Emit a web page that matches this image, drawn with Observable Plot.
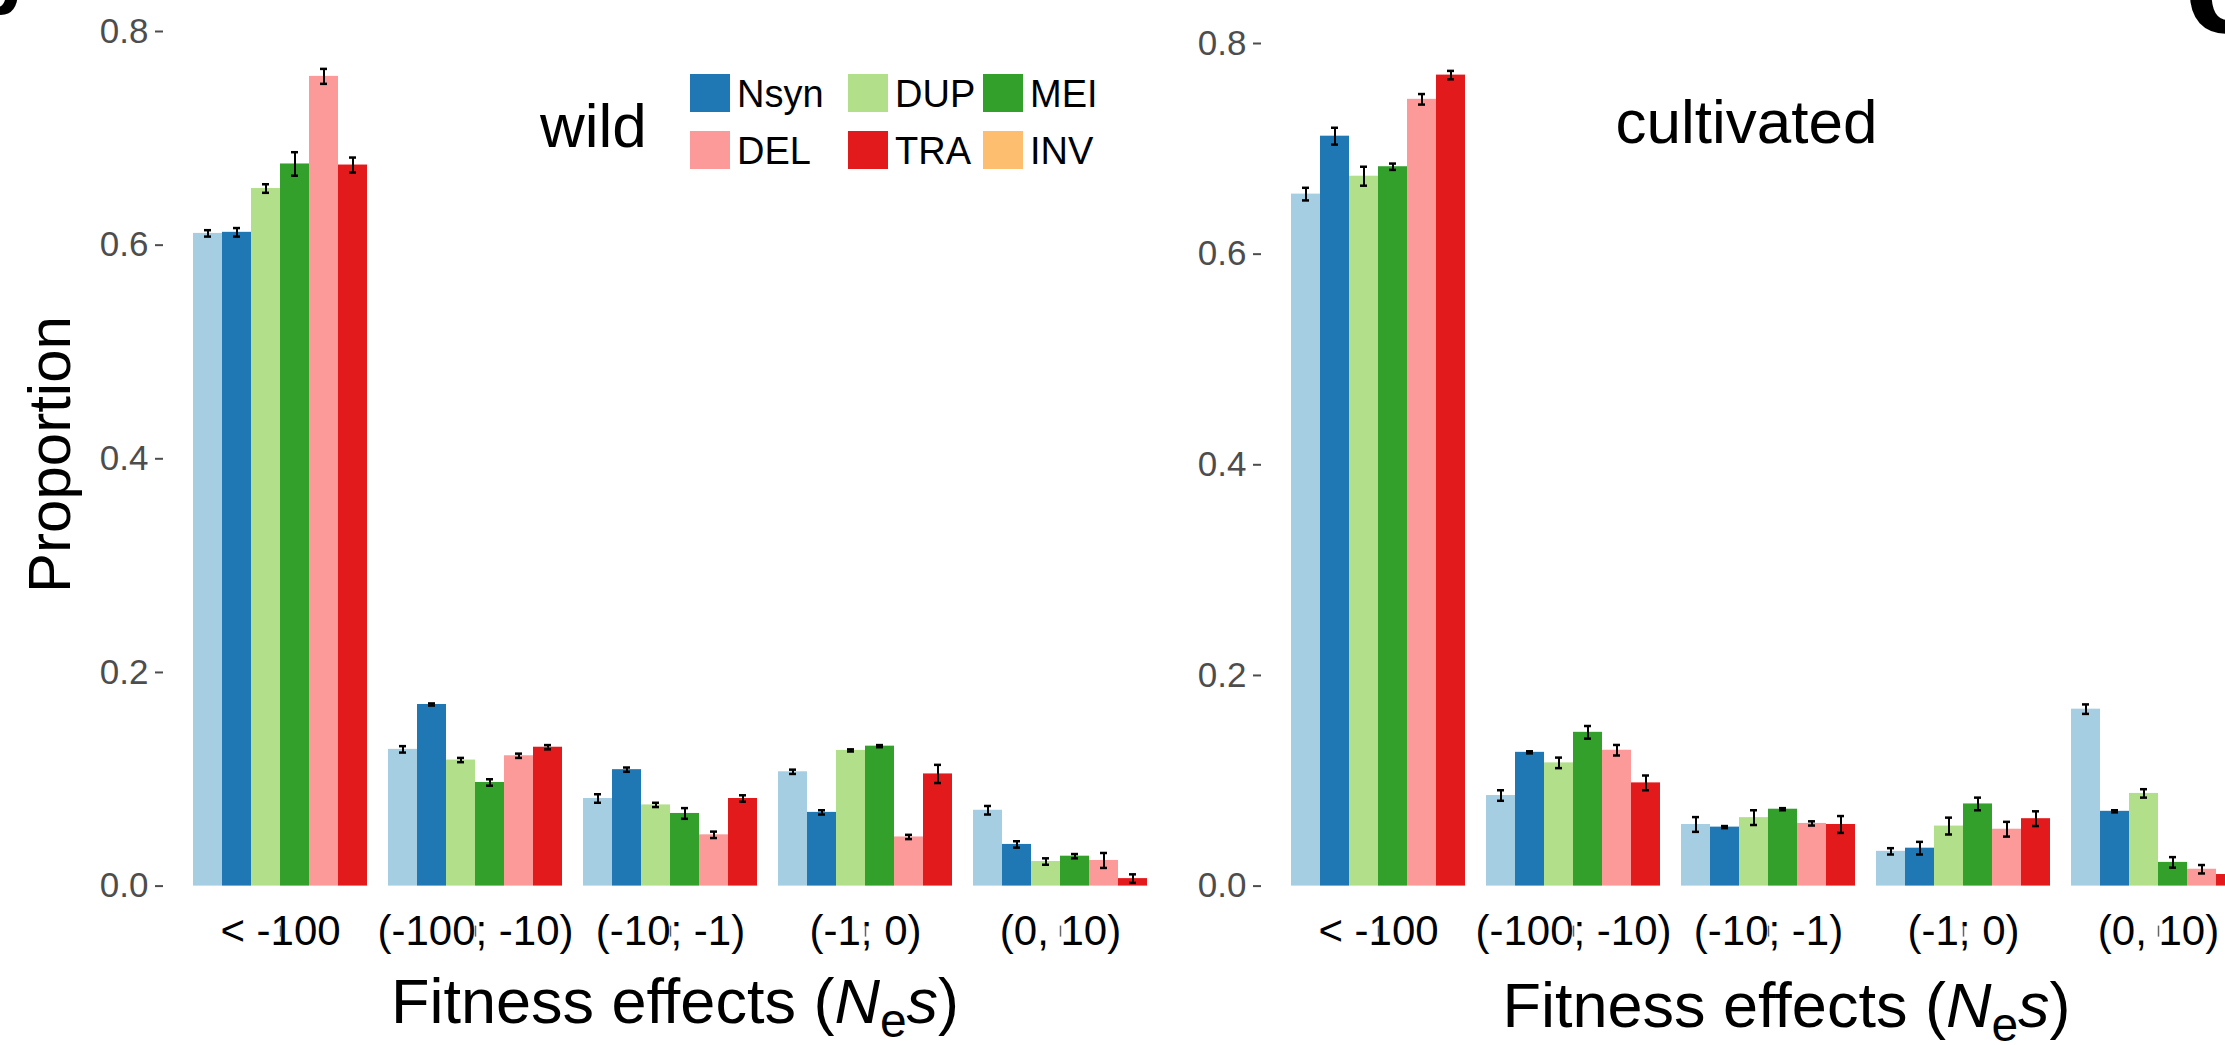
<!DOCTYPE html>
<html>
<head>
<meta charset="utf-8">
<script src="https://cdn.jsdelivr.net/npm/d3@7"></script>
<script src="https://cdn.jsdelivr.net/npm/@observablehq/plot@0.6"></script>
<style>
  html, body { margin: 0; padding: 0; background: white; }
  body { width: 2225px; height: 1045px; overflow: hidden; position: relative; }
  .panel { position: absolute; top: 0; }
  .panel svg { overflow: visible; }
</style>
</head>
<body>
<div id="left" class="panel" style="left:0px"></div>
<div id="right" class="panel" style="left:1097.5px"></div>
<script>
// ---- data ----
const categories = ["< -100", "(-100; -10)", "(-10; -1)", "(-1; 0)", "(0, 10)"];
const types = ["Syn", "Nsyn", "DUP", "MEI", "DEL", "TRA"];
const typeColors = ["#a6cee3", "#1f78b4", "#b2df8a", "#33a02c", "#fb9a99", "#e31a1c"];
const legendLabels = ["Nsyn", "DUP", "MEI", "DEL", "TRA", "INV"];
const legendColors = ["#1f78b4", "#b2df8a", "#33a02c", "#fb9a99", "#e31a1c", "#fdbf6f"];
const yTicks = [0, 0.2, 0.4, 0.6, 0.8];

// wild: proportions per type across categories
const wildSyn  = [0.611, 0.128, 0.082, 0.107, 0.071];
const wildNsyn = [0.612, 0.170, 0.109, 0.069, 0.039];
const wildDUP  = [0.653, 0.118, 0.076, 0.127, 0.023];
const wildMEI  = [0.676, 0.097, 0.068, 0.131, 0.028];
const wildDEL  = [0.758, 0.122, 0.048, 0.046, 0.024];
const wildTRA  = [0.675, 0.130, 0.082, 0.105, 0.007];
// wild: error half-widths
const wildSynErr  = [0.003, 0.003, 0.004, 0.002, 0.004];
const wildNsynErr = [0.004, 0.001, 0.002, 0.002, 0.003];
const wildDUPErr  = [0.004, 0.002, 0.002, 0.001, 0.003];
const wildMEIErr  = [0.011, 0.003, 0.005, 0.001, 0.002];
const wildDELErr  = [0.007, 0.002, 0.003, 0.002, 0.007];
const wildTRAErr  = [0.007, 0.002, 0.003, 0.0085, 0.004];

// cultivated
const cultSyn  = [0.657, 0.086, 0.0585, 0.033, 0.168];
const cultNsyn = [0.712, 0.127, 0.056, 0.036, 0.071];
const cultDUP  = [0.674, 0.117, 0.065, 0.057, 0.088];
const cultMEI  = [0.683, 0.146, 0.073, 0.078, 0.0225];
const cultDEL  = [0.747, 0.129, 0.0595, 0.054, 0.016];
const cultTRA  = [0.770, 0.098, 0.0585, 0.064, 0.011];
const cultSynErr  = [0.006, 0.005, 0.007, 0.003, 0.0045];
const cultNsynErr = [0.008, 0.001, 0.001, 0.006, 0.001];
const cultDUPErr  = [0.009, 0.005, 0.007, 0.008, 0.004];
const cultMEIErr  = [0.003, 0.006, 0.001, 0.006, 0.005];
const cultDELErr  = [0.005, 0.005, 0.002, 0.007, 0.004];
const cultTRAErr  = [0.004, 0.007, 0.008, 0.007, 0.004];

function table(valueLists, errLists) {
  const rows = [];
  types.forEach((t, ti) => {
    categories.forEach((c, ci) => {
      rows.push({group: c, type: t, value: valueLists[ti][ci], err: errLists[ti][ci]});
    });
  });
  return rows;
}
const wildRows = table([wildSyn, wildNsyn, wildDUP, wildMEI, wildDEL, wildTRA],
                       [wildSynErr, wildNsynErr, wildDUPErr, wildMEIErr, wildDELErr, wildTRAErr]);
const cultRows = table([cultSyn, cultNsyn, cultDUP, cultMEI, cultDEL, cultTRA],
                       [cultSynErr, cultNsynErr, cultDUPErr, cultMEIErr, cultDELErr, cultTRAErr]);

const FONT = "'Liberation Sans', Arial, Helvetica, sans-serif";

function panel(rows, marginTop) {
  return Plot.plot({
    width: 1190,
    height: 1045,
    marginLeft: 191,
    marginRight: 41,
    marginTop: marginTop,
    marginBottom: 159.4,
    style: {background: "transparent", fontFamily: FONT, overflow: "visible", maxWidth: "none"},
    fx: {domain: categories, paddingInner: 0.1, paddingOuter: 0, label: null},
    x: {domain: types, padding: 0, axis: null},
    y: {domain: [0, 0.8], axis: null},
    color: {domain: types, range: typeColors},
    marks: [
      Plot.barY(rows, {fx: "group", x: "type", y: "value", fill: "type"}),
      Plot.ruleX(rows, {fx: "group", x: "type", y1: d => d.value - d.err, y2: d => d.value + d.err, stroke: "black", strokeWidth: 2}),
      Plot.tickY(rows, {fx: "group", x: "type", y: d => d.value - d.err, stroke: "black", strokeWidth: 2.5, inset: 11}),
      Plot.tickY(rows, {fx: "group", x: "type", y: d => d.value + d.err, stroke: "black", strokeWidth: 2.5, inset: 11}),
      Plot.axisY({ticks: yTicks, tickFormat: d3.format(".1f"), tickSize: 8, tickPadding: 7,
                  fontSize: 35, color: "#4d4d4d", strokeWidth: 2, dx: -29, label: null}),
      Plot.axisFx({anchor: "bottom", tickSize: 0, tickPadding: 29, fontSize: 42, color: "black", label: null}),
      Plot.axisFx({anchor: "bottom", text: null, tickSize: 11, dy: 40, color: "#666", strokeWidth: 1.5, label: null})
    ]
  });
}

function xTitle(svg, cx, baseline) {
  const t = svg.append("text")
    .attr("x", cx).attr("y", baseline)
    .attr("text-anchor", "middle")
    .attr("font-family", FONT).attr("font-size", 63).attr("fill", "black");
  t.append("tspan").text("Fitness effects (");
  t.append("tspan").attr("font-style", "italic").text("N");
  t.append("tspan").attr("font-size", 48).attr("dy", 14).text("e");
  t.append("tspan").attr("font-style", "italic").attr("dy", -14).text("s");
  t.append("tspan").text(")");
}

function label(svg, x, y, size, txt, weight) {
  return svg.append("text").attr("x", x).attr("y", y)
    .attr("text-anchor", "start")
    .attr("font-family", FONT).attr("font-size", size)
    .attr("font-weight", weight || "normal").attr("fill", "black").text(txt);
}

// left panel (wild)
const leftPlot = panel(wildRows, 31);
document.getElementById("left").appendChild(leftPlot);
const ls = d3.select(leftPlot);
ls.append("text")
  .attr("transform", "translate(70,454.5) rotate(-90)")
  .attr("text-anchor", "middle")
  .attr("font-family", FONT).attr("font-size", 60).attr("fill", "black")
  .text("Proportion");
label(ls, 540, 147, 62, "wild");
xTitle(ls, 675, 1023);
label(ls, -30, 15, 84, "b", "bold");

// legend
const legCols = [690, 848, 983];
const legRows = [74, 131];
const lg = ls.append("g");
legendLabels.forEach((lab, i) => {
  const col = i % 3, row = Math.floor(i / 3);
  lg.append("rect").attr("x", legCols[col]).attr("y", legRows[row])
    .attr("width", 40).attr("height", 38).attr("fill", legendColors[i]);
  label(lg, legCols[col] + 47, legRows[row] + 33, 38, lab);
});

// right panel (cultivated)
const rightPlot = panel(cultRows, 43);
document.getElementById("right").appendChild(rightPlot);
const rs = d3.select(rightPlot);
label(rs, 517.5, 143, 62, "cultivated");
xTitle(rs, 688.5, 1027);
label(rs, 1086, 33, 150, "c", "bold");
</script>
</body>
</html>
